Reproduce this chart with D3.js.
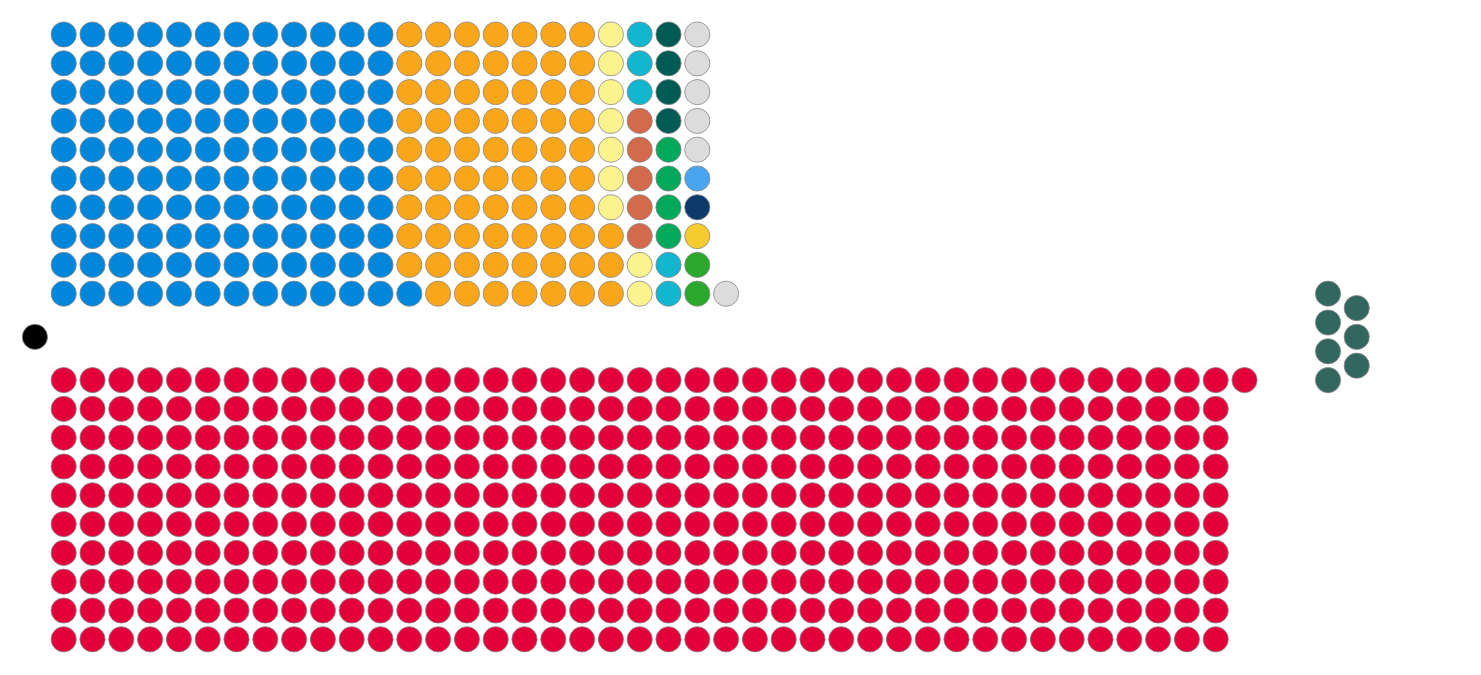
<!DOCTYPE html>
<html><head><meta charset="utf-8">
<script src="https://cdn.jsdelivr.net/npm/d3@7"></script>
<style>html,body{margin:0;padding:0;background:#fff;}</style>
</head><body>
<svg id="chart" width="1481" height="675"></svg>
<script>
// Opposition benches (top block), in fill order
const oppParties = ["Conservative","Liberal Democrats","SNP","DUP","Reform UK","Green","Plaid Cymru","SDLP","Alliance","TUV","UUP","Independent"];
const oppSeats   = [121, 72, 9, 5, 5, 4, 4, 2, 1, 1, 1, 6];
const oppColors  = ["#0087DC","#FAA61A","#FDF38E","#D46A4C","#12B6CF","#02A95B","#005B54","#2AA82C","#F6CB2F","#0C3A6A","#48A5EE","#DCDCDC"];
// Government benches (bottom block)
const govParties = ["Labour"];
const govSeats   = [411];
const govColors  = ["#E4003B"];
// Speaker and abstentionist cross bench
const speakerSeats = [1];
const speakerColor = "#000000";
const crossParties = ["Sinn Féin"];
const crossSeats   = [7];
const crossColors  = ["#326760"];

const ROWS = 10;
const svg = d3.select("#chart");
const x = d3.scaleLinear().domain([0, 1]).range([63.7, 92.5]);
const y = d3.scaleLinear().domain([0, 1]).range([34.5, 63.3]);
const R = 12.6;

function expand(seats, colors) {
  const out = [];
  seats.forEach((n, i) => { for (let k = 0; k < n; k++) out.push(colors[i]); });
  return out;
}
const dots = [];
// top block: fill columns bottom -> top
expand(oppSeats, oppColors).forEach((c, i) => {
  const col = Math.floor(i / ROWS), r = i % ROWS;
  dots.push({col: col, row: ROWS - 1 - r, color: c});
});
// bottom block: fill columns top -> bottom
expand(govSeats, govColors).forEach((c, i) => {
  const col = Math.floor(i / ROWS), r = i % ROWS;
  dots.push({col: col, row: 12 + r, color: c});
});
// speaker
d3.range(speakerSeats[0]).forEach(() => dots.push({col: -1, row: 10.5, color: speakerColor}));
// cross bench: two staggered columns
expand(crossSeats, crossColors).forEach((c, i) => {
  const sub = i < 4 ? 0 : 1;
  const r = sub === 0 ? i : (i - 4) + 0.5;
  dots.push({col: 43.9 + sub * 0.997, row: 9 + r, color: c});
});

svg.selectAll("circle").data(dots).join("circle")
  .attr("cx", d => x(d.col))
  .attr("cy", d => y(d.row))
  .attr("r", R)
  .attr("fill", d => d.color)
  .attr("stroke", "#888")
  .attr("stroke-width", 0.8);
</script>
</body></html>
